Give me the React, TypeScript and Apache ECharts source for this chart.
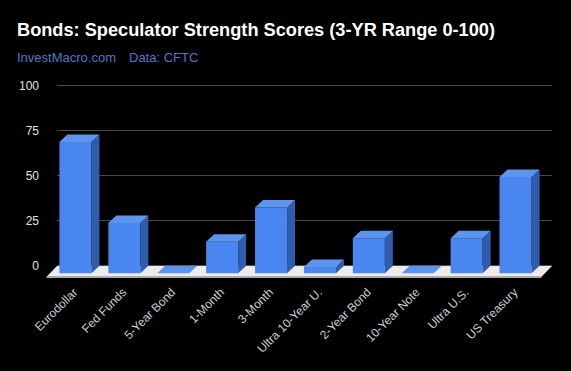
import React, { useEffect, useRef } from "react";
import * as echarts from "echarts";

const categories = [
  "Eurodollar",
  "Fed Funds",
  "5-Year Bond",
  "1-Month",
  "3-Month",
  "Ultra 10-Year U.",
  "2-Year Bond",
  "10-Year Note",
  "Ultra U.S.",
  "US Treasury",
];
const scores = [73, 28, 0, 17.5, 36.5, 3.5, 19.5, 0, 19.5, 53.5];
const yTicks = [0, 25, 50, 75, 100];

const TITLE = "Bonds: Speculator Strength Scores (3-YR Range 0-100)";
const SOURCE = "InvestMacro.com";
const DATA_NOTE = "Data: CFTC";

const DX = 8;
const DY = -7.5;

export default function App() {
  const ref = useRef<HTMLDivElement>(null);
  useEffect(() => {
    if (!ref.current) return;
    const chart = echarts.init(ref.current, null, { renderer: "svg" });
    const barData = scores.map((v, i) => [i, v]);
    const option: any = {
      animation: false,
      backgroundColor: "#000000",
      title: [
        {
          text: TITLE,
          left: 17,
          top: 21,
          padding: 0,
          textStyle: {
            color: "#ffffff",
            fontSize: 18.2,
            fontWeight: "bold",
            fontFamily: "Liberation Sans, Arial, sans-serif",
          },
        },
        {
          text: SOURCE,
          left: 17,
          top: 51,
          padding: 0,
          textStyle: {
            color: "#5577c4",
            fontSize: 13,
            fontWeight: "normal",
            fontFamily: "Liberation Sans, Arial, sans-serif",
          },
        },
        {
          text: DATA_NOTE,
          left: 129,
          top: 51,
          padding: 0,
          textStyle: {
            color: "#5577c4",
            fontSize: 13,
            fontWeight: "normal",
            fontFamily: "Liberation Sans, Arial, sans-serif",
          },
        },
      ],
      grid: [
        { left: 57, right: 19, top: 85.5, bottom: 105.5 },
        { left: 51, right: 31, top: 93.3, bottom: 97.7 },
      ],
      xAxis: [
        { type: "category", gridIndex: 0, data: categories, show: false },
        {
          type: "category",
          gridIndex: 1,
          data: categories,
          axisLine: { show: false },
          axisTick: { show: false },
          axisLabel: {
            interval: 0,
            rotate: 45,
            margin: 17,
            color: "#cfcfcf",
            fontSize: 12,
            fontFamily: "Liberation Sans, Arial, sans-serif",
          },
        },
      ],
      yAxis: [
        {
          type: "value",
          gridIndex: 0,
          min: yTicks[0],
          max: yTicks[yTicks.length - 1],
          interval: 25,
          axisLine: { show: false },
          axisTick: { show: false },
          axisLabel: {
            margin: 18,
            color: "#e0e0e0",
            fontSize: 12,
            fontFamily: "Liberation Sans, Arial, sans-serif",
          },
          splitLine: { lineStyle: { color: "#4a4a4a", width: 1 } },
        },
        {
          type: "value",
          gridIndex: 1,
          min: 0,
          max: 100,
          show: false,
          splitLine: { show: false },
        },
      ],
      series: [
        {
          type: "custom",
          xAxisIndex: 1,
          yAxisIndex: 1,
          z: 1,
          silent: true,
          data: [[0, 0]],
          renderItem: (params: any, api: any) => {
            const band = api.size([1, 0])[0];
            const p0 = api.coord([0, 0]);
            const p1 = api.coord([categories.length - 1, 0]);
            const xl = p0[0] - band / 2 - 4.5;
            const xr = p1[0] + band / 2 + 1.5;
            const yf = p0[1] + 3.4;
            const fdx = 10.5;
            const fdy = -10.7;
            return {
              type: "group",
              children: [
                {
                  type: "polygon",
                  shape: {
                    points: [
                      [xl, yf],
                      [xl + fdx, yf + fdy],
                      [xr + fdx, yf + fdy],
                      [xr, yf],
                    ],
                  },
                  style: { fill: "#ececec" },
                },
                {
                  type: "line",
                  shape: { x1: xl, y1: yf + 0.6, x2: xr, y2: yf + 0.6 },
                  style: { stroke: "#a8a8a8", lineWidth: 1.5 },
                },
              ],
            };
          },
        },
        {
          type: "custom",
          xAxisIndex: 1,
          yAxisIndex: 1,
          z: 2,
          data: barData,
          encode: { x: 0, y: 1 },
          renderItem: (params: any, api: any) => {
            const i = api.value(0);
            const v = api.value(1);
            const base = api.coord([i, 0]);
            const top = api.coord([i, v]);
            const bw = api.size([1, 0])[0] * 0.655;
            const xl = base[0] - bw / 2;
            const xr = base[0] + bw / 2;
            const yt = top[1];
            const yb = base[1];
            const children: any[] = [];
            if (yb - yt > 0.3) {
              children.push({
                type: "rect",
                shape: { x: xl, y: yt, width: bw, height: yb - yt },
                style: { fill: "#4a86f0" },
              });
              children.push({
                type: "polygon",
                shape: {
                  points: [
                    [xr, yt],
                    [xr + DX, yt + DY],
                    [xr + DX, yb + DY],
                    [xr, yb],
                  ],
                },
                style: { fill: "#2f5cab" },
              });
            }
            children.push({
              type: "polygon",
              shape: {
                points: [
                  [xl, yt],
                  [xl + DX, yt + DY],
                  [xr + DX, yt + DY],
                  [xr, yt],
                ],
              },
              style: { fill: "#5d95ee" },
            });
            return { type: "group", children };
          },
        },
      ],
    };
    chart.setOption(option);
    return () => chart.dispose();
  }, []);
  return (
    <div
      ref={ref}
      style={{ position: "fixed", left: 0, top: 0, width: 571, height: 371 }}
    />
  );
}
